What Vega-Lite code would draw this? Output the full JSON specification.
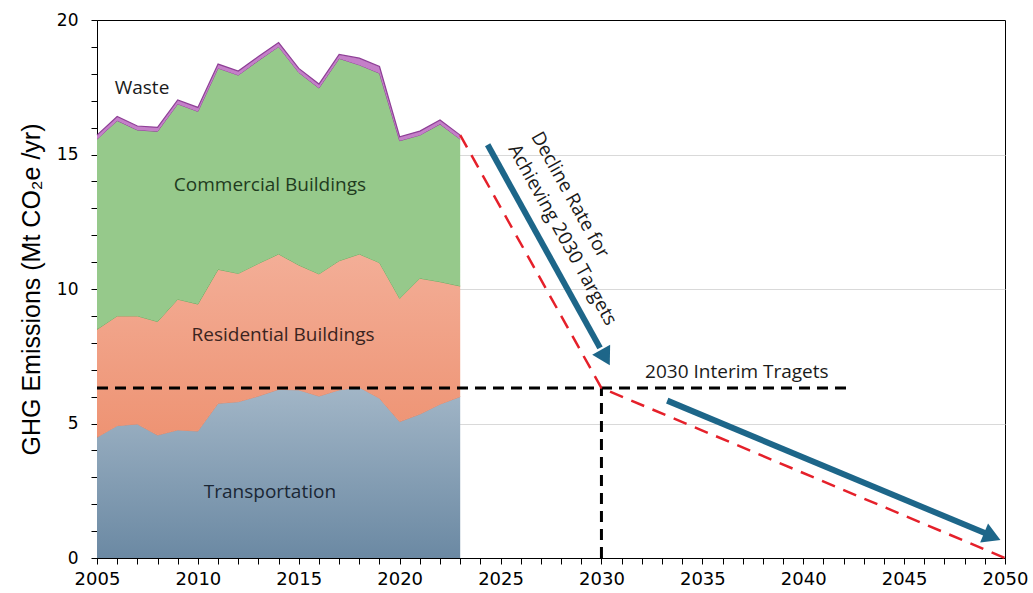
{
  "$schema": "https://vega.github.io/schema/vega-lite/v6.json",
  "width": 908,
  "height": 538,
  "autosize": {"type": "none"},
  "padding": {"left": 97, "top": 20, "right": 28, "bottom": 35},
  "background": "white",
  "config": {"view": {"stroke": "black", "strokeWidth": 1}},
  "datasets": {
    "hist": [
      {"year": 2005, "Transportation": 4.49, "Residential": 4.01, "Commercial": 7.07, "Waste": 0.15},
      {"year": 2006, "Transportation": 4.92, "Residential": 4.08, "Commercial": 7.26, "Waste": 0.15},
      {"year": 2007, "Transportation": 4.98, "Residential": 4.02, "Commercial": 6.91, "Waste": 0.15},
      {"year": 2008, "Transportation": 4.57, "Residential": 4.22, "Commercial": 7.07, "Waste": 0.15},
      {"year": 2009, "Transportation": 4.76, "Residential": 4.86, "Commercial": 7.26, "Waste": 0.15},
      {"year": 2010, "Transportation": 4.72, "Residential": 4.72, "Commercial": 7.16, "Waste": 0.15},
      {"year": 2011, "Transportation": 5.75, "Residential": 4.98, "Commercial": 7.48, "Waste": 0.15},
      {"year": 2012, "Transportation": 5.81, "Residential": 4.77, "Commercial": 7.37, "Waste": 0.15},
      {"year": 2013, "Transportation": 6.02, "Residential": 4.93, "Commercial": 7.54, "Waste": 0.15},
      {"year": 2014, "Transportation": 6.27, "Residential": 5.03, "Commercial": 7.71, "Waste": 0.15},
      {"year": 2015, "Transportation": 6.25, "Residential": 4.64, "Commercial": 7.16, "Waste": 0.15},
      {"year": 2016, "Transportation": 6.02, "Residential": 4.54, "Commercial": 6.91, "Waste": 0.15},
      {"year": 2017, "Transportation": 6.25, "Residential": 4.80, "Commercial": 7.52, "Waste": 0.15},
      {"year": 2018, "Transportation": 6.35, "Residential": 4.95, "Commercial": 7.03, "Waste": 0.25},
      {"year": 2019, "Transportation": 5.94, "Residential": 5.04, "Commercial": 7.04, "Waste": 0.25},
      {"year": 2020, "Transportation": 5.07, "Residential": 4.58, "Commercial": 5.86, "Waste": 0.15},
      {"year": 2021, "Transportation": 5.35, "Residential": 5.05, "Commercial": 5.32, "Waste": 0.15},
      {"year": 2022, "Transportation": 5.72, "Residential": 4.55, "Commercial": 5.86, "Waste": 0.15},
      {"year": 2023, "Transportation": 6.00, "Residential": 4.11, "Commercial": 5.46, "Waste": 0.15}
    ],
    "targets": [
      {"year": 2005, "year_end": 2042.3, "value": 6.32, "value_end": 6.32},
      {"year": 2030, "year_end": 2030, "value": 0, "value_end": 6.32}
    ],
    "path": [
      {"year": 2023, "value": 15.72},
      {"year": 2030, "value": 6.32},
      {"year": 2050, "value": 0}
    ],
    "arrows": [
      {"id": "a", "year": 2024.36, "value": 15.36, "year_end": 2029.93, "value_end": 7.81},
      {"id": "b", "year": 2033.26, "value": 5.85, "year_end": 2049.15, "value_end": 0.88}
    ],
    "heads": [
      {"id": "a", "year": 2030.2, "value": 7.45},
      {"id": "b", "year": 2049.37, "value": 0.8}
    ],
    "labels": [
      {"label": "Waste", "year": 2007.23, "value": 17.47},
      {"label": "Commercial Buildings", "year": 2013.57, "value": 13.87},
      {"label": "Residential Buildings", "year": 2014.22, "value": 8.29},
      {"label": "Transportation", "year": 2013.57, "value": 2.45},
      {"label": "2030 Interim Tragets", "year": 2036.71, "value": 6.91}
    ],
    "rotated": [
      {"label": "Decline Rate for\nAchieving 2030 Targets", "year": 2027.15, "value": 15.95}
    ]
  },
  "encoding": {
    "x": {
      "field": "year", "type": "quantitative",
      "scale": {"domain": [2005, 2050], "nice": false, "zero": false},
      "axis": {
        "title": null,
        "values": [2005,2006,2007,2008,2009,2010,2011,2012,2013,2014,2015,2016,2017,2018,2019,2020,2021,2022,2023,2024,2025,2026,2027,2028,2029,2030,2031,2032,2033,2034,2035,2036,2037,2038,2039,2040,2041,2042,2043,2044,2045,2046,2047,2048,2049,2050],
        "format": "d",
        "labelExpr": "datum.value % 5 === 0 ? datum.label : ''",
        "labelOverlap": false,
        "labelFlush": false,
        "grid": false,
        "domainColor": "black",
        "tickColor": "black",
        "tickSize": 6,
        "labelFont": "DejaVu Sans",
        "labelFontSize": 18,
        "labelColor": "black",
        "labelPadding": 6
      }
    },
    "y": {
      "field": "value", "type": "quantitative",
      "scale": {"domain": [0, 20], "nice": false},
      "axis": {
        "title": "GHG Emissions (Mt CO₂e /yr)",
        "titleFont": "Liberation Sans",
        "titleFontSize": 25,
        "titleFontWeight": "normal",
        "titleColor": "black",
        "titlePadding": 12,
        "values": [0,1,2,3,4,5,6,7,8,9,10,11,12,13,14,15,16,17,18,19,20],
        "labelExpr": "datum.value % 5 === 0 ? datum.label : ''",
        "labelOverlap": false,
        "labelFlush": false,
        "gridColor": "#D9D9D9",
        "gridOpacity": {"condition": {"test": "datum.value % 5 === 0 && datum.value > 0 && datum.value < 20", "value": 1}, "value": 0},
        "domainColor": "black",
        "tickColor": "black",
        "tickSize": 6,
        "labelFont": "DejaVu Sans",
        "labelFontSize": 17,
        "labelColor": "black",
        "labelPadding": 13
      }
    }
  },
  "layer": [
    {
      "data": {"name": "hist"},
      "transform": [
        {"fold": ["Transportation", "Residential", "Commercial", "Waste"], "as": ["sector", "v"]},
        {"stack": "v", "groupby": ["year"], "as": ["lo", "value"]}
      ],
      "encoding": {
        "y2": {"field": "lo"}
      },
      "layer": [
        {
          "transform": [{"filter": "datum.sector === 'Transportation'"}],
          "mark": {
            "type": "area", "opacity": 1, "fillOpacity": 1,
            "color": {"gradient": "linear", "x1": 0, "y1": 0, "x2": 0, "y2": 1, "stops": [{"offset": 0, "color": "#A2B6C7"}, {"offset": 1, "color": "#6B89A3"}]},
            "line": {"color": "#D98A70", "strokeWidth": 1}
          }
        },
        {
          "transform": [{"filter": "datum.sector === 'Residential'"}],
          "mark": {
            "type": "area", "opacity": 1, "fillOpacity": 1,
            "color": {"gradient": "linear", "x1": 0, "y1": 0, "x2": 0, "y2": 1, "stops": [{"offset": 0, "color": "#F3AE97"}, {"offset": 1, "color": "#EE9373"}]},
            "line": {"color": "#6BAA5F", "strokeWidth": 1}
          }
        },
        {
          "transform": [{"filter": "datum.sector === 'Commercial'"}],
          "mark": {"type": "area", "opacity": 1, "fillOpacity": 1, "color": "#96C98B", "line": {"color": "#8E3F96", "strokeWidth": 1}}
        },
        {
          "transform": [{"filter": "datum.sector === 'Waste'"}],
          "mark": {"type": "area", "opacity": 1, "fillOpacity": 1, "color": "#C47FC8", "line": {"color": "#8E3F96", "strokeWidth": 1.2}}
        }
      ]
    },
    {
      "data": {"name": "targets"},
      "mark": {"type": "rule", "color": "black", "strokeWidth": 3, "strokeDash": [11, 7]},
      "encoding": {
        "x2": {"field": "year_end"},
        "y2": {"field": "value_end"}
      }
    },
    {
      "data": {"name": "path"},
      "mark": {"type": "line", "color": "#E5202A", "strokeWidth": 2.5, "strokeDash": [14, 9]},
      "encoding": {}
    },
    {
      "data": {"name": "arrows"},
      "mark": {"type": "rule", "color": "#1D6689", "strokeWidth": 6, "strokeCap": "butt"},
      "encoding": {
        "x2": {"field": "year_end"},
        "y2": {"field": "value_end"}
      }
    },
    {
      "data": {"name": "heads"},
      "transform": [{"filter": "datum.id === 'a'"}],
      "mark": {"type": "point", "shape": "triangle-up", "filled": true, "color": "#1D6689", "opacity": 1, "size": 420, "angle": 151, "strokeWidth": 0}
    },
    {
      "data": {"name": "heads"},
      "transform": [{"filter": "datum.id === 'b'"}],
      "mark": {"type": "point", "shape": "triangle-up", "filled": true, "color": "#1D6689", "opacity": 1, "size": 420, "angle": 112.6, "strokeWidth": 0}
    },
    {
      "data": {"name": "labels"},
      "mark": {"type": "text", "font": "Open Sans", "fontSize": 19, "align": "center", "baseline": "middle"},
      "encoding": {
        "text": {"field": "label", "type": "nominal"},
        "color": {
          "field": "label", "type": "nominal", "legend": null,
          "scale": {
            "domain": ["Waste", "Commercial Buildings", "Residential Buildings", "Transportation", "2030 Interim Tragets"],
            "range": ["#1A1A1A", "#1F3B20", "#3B2420", "#1A2735", "#1A1A1A"]
          }
        }
      }
    },
    {
      "data": {"name": "rotated"},
      "mark": {"type": "text", "font": "Open Sans", "fontSize": 19, "align": "left", "baseline": "top", "angle": 61, "lineBreak": "\n", "lineHeight": 26, "color": "#1A1A1A"},
      "encoding": {
        "text": {"field": "label", "type": "nominal"}
      }
    }
  ]
}
